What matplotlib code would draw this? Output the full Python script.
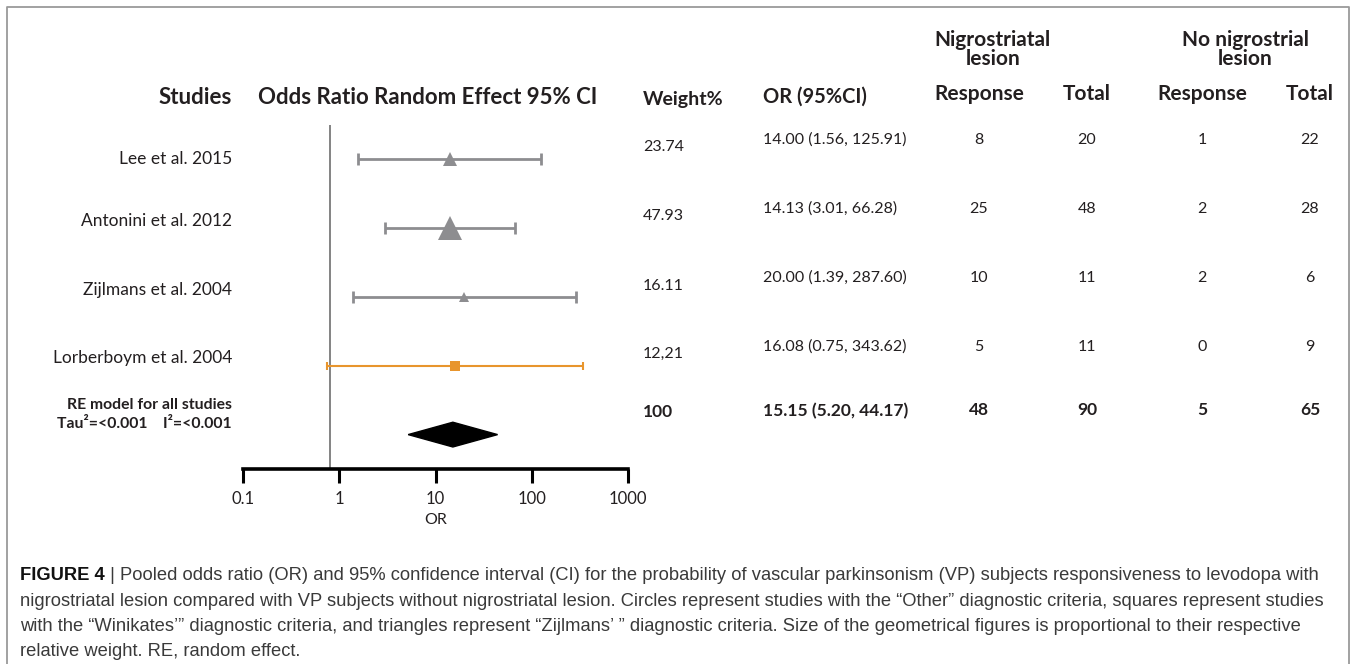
import matplotlib.pyplot as plt
from matplotlib.patches import Polygon

# ---- data ----
studies = ["Lee et al. 2015", "Antonini et al. 2012", "Zijlmans et al. 2004", "Lorberboym et al. 2004"]
odds_ratio = [14.00, 14.13, 20.00, 16.08]
ci_low = [1.56, 3.01, 1.39, 0.75]
ci_high = [125.91, 66.28, 287.60, 343.62]
weights = ["23.74", "47.93", "16.11", "12,21"]
criteria = ["Zijlmans", "Zijlmans", "Zijlmans", "Winikates"]
nigro_response = [8, 25, 10, 5]
nigro_total = [20, 48, 11, 11]
no_nigro_response = [1, 2, 2, 0]
no_nigro_total = [22, 28, 6, 9]

pooled_or = 15.15
pooled_low = 5.20
pooled_high = 44.17
pooled_weight = "100"
pooled_counts = [48, 90, 5, 65]

x_ticks = [0.1, 1, 10, 100, 1000]
x_tick_labels = ["0.1", "1", "10", "100", "1000"]
ref_line = 0.8

caption_lines = [
    " | Pooled odds ratio (OR) and 95% confidence interval (CI) for the probability of vascular parkinsonism (VP) subjects responsiveness to levodopa with",
    "nigrostriatal lesion compared with VP subjects without nigrostriatal lesion. Circles represent studies with the \u201cOther\u201d diagnostic criteria, squares represent studies",
    "with the \u201cWinikates\u2019\u201d diagnostic criteria, and triangles represent \u201cZijlmans\u2019 \u201d diagnostic criteria. Size of the geometrical figures is proportional to their respective",
    "relative weight. RE, random effect.",
]

# ---- style ----
GRAY = "#8d8d90"
ORANGE = "#e8952d"
TXT = "#231f20"
markers = {"Zijlmans": "^", "Winikates": "s", "Other": "o"}
colors = {"Zijlmans": GRAY, "Winikates": ORANGE, "Other": GRAY}
marker_sizes = [10, 17, 7.5, 7]
FONT = "Lato"

W, H = 1356, 664
fig = plt.figure(figsize=(W / 100, H / 100), dpi=100)

# text layer in pixel coordinates
tx = fig.add_axes([0, 0, 1, 1])
tx.set_xlim(0, W)
tx.set_ylim(H, 0)
tx.axis("off")

# frame
tx.plot([7, 7, 1349, 1349], [H + 5, 7, 7, H + 5], color="#9a9a9a", lw=1.3, clip_on=False)

hdr = dict(fontweight="bold", family=FONT, color=TXT, va="center")
tx.text(232, 97, "Studies", ha="right", fontsize=16, **hdr)
tx.text(428, 97, "Odds Ratio Random Effect 95% CI", ha="center", fontsize=16, **hdr)
tx.text(643, 99, "Weight%", ha="left", fontsize=14, **hdr)
tx.text(763, 97, "OR (95%CI)", ha="left", fontsize=14.5, **hdr)
tx.text(979, 94, "Response", ha="center", fontsize=15, **hdr)
tx.text(1087, 94, "Total", ha="center", fontsize=15, **hdr)
tx.text(1202, 94, "Response", ha="center", fontsize=15, **hdr)
tx.text(1310, 94, "Total", ha="center", fontsize=15, **hdr)
tx.text(993, 40, "Nigrostriatal", ha="center", fontsize=15, **hdr)
tx.text(993, 59, "lesion", ha="center", fontsize=15, **hdr)
tx.text(1245, 40, "No nigrostrial", ha="center", fontsize=15, **hdr)
tx.text(1245, 59, "lesion", ha="center", fontsize=15, **hdr)

body = dict(family=FONT, color=TXT, va="center")
name_y = [159, 221, 290, 358]
weight_y = [147, 216, 286, 354]
val_y = [140, 209, 278, 347]
for i, name in enumerate(studies):
    tx.text(232, name_y[i], name, ha="right", fontsize=12.5, **body)
    tx.text(643, weight_y[i], weights[i], ha="left", fontsize=11.5, **body)
    tx.text(763, val_y[i], f"{odds_ratio[i]:.2f} ({ci_low[i]:.2f}, {ci_high[i]:.2f})", ha="left",
            fontsize=11.5, **body)
    for x, v in zip([979, 1087, 1202, 1310],
                    [nigro_response[i], nigro_total[i], no_nigro_response[i], no_nigro_total[i]]):
        tx.text(x, val_y[i], str(v), ha="center", fontsize=11.5, **body)

bold = dict(body, fontweight="bold")
tx.text(232, 405, "RE model for all studies", ha="right", fontsize=11.3, **bold)
tx.text(232, 424, "Tau\u00b2=<0.001    I\u00b2=<0.001", ha="right", fontsize=11.3, **bold)
tx.text(643, 412, pooled_weight, ha="left", fontsize=12.5, **bold)
tx.text(763, 411, f"{pooled_or:.2f} ({pooled_low:.2f}, {pooled_high:.2f})", ha="left",
        fontsize=12.5, **bold)
for x, v in zip([979, 1087, 1202, 1310], pooled_counts):
    tx.text(x, 410, str(v), ha="center", fontsize=12.5, **bold)

# caption
CAP_FS = 13.2
cap = dict(fontsize=CAP_FS, family="Liberation Sans", va="center", color="#3a3a3a")
fig_lbl = tx.text(20, 575, "FIGURE 4", ha="left", fontweight="bold", **dict(cap, color="#111111"))
tx.annotate(caption_lines[0], xy=(1, 0.5), xycoords=fig_lbl, ha="left", va="center",
            fontsize=CAP_FS, family="Liberation Sans", color="#3a3a3a")
for k, line in enumerate(caption_lines[1:]):
    tx.text(20, 601 + 25.3 * k, line, ha="left", **cap)

# forest plot axes: x 0.1..1000 -> px 243..628, rows -0.5..4.5 -> px 125..469
x0, x1, ytop, ybot = 243, 628, 125, 469
ax = fig.add_axes([x0 / W, 1 - ybot / H, (x1 - x0) / W, (ybot - ytop) / H])
ax.set_facecolor("none")
ax.set_xscale("log")
ax.set_xlim(x_ticks[0], x_ticks[-1])
ax.set_ylim(4.5, -0.5)
for s in ["top", "right", "left"]:
    ax.spines[s].set_visible(False)
ax.spines["bottom"].set_linewidth(2.6)
ax.set_yticks([])
ax.set_xticks(x_ticks)
ax.set_xticklabels(x_tick_labels, family=FONT, fontsize=12, color=TXT)
ax.minorticks_off()
ax.tick_params(axis="x", direction="out", length=10, width=2.2, pad=6)
ax.set_xlabel("OR", family=FONT, fontsize=11.5, color=TXT, labelpad=4)

ax.axvline(ref_line, color="#7a7a7a", lw=1.3, zorder=1)

for i in range(len(studies)):
    c = colors[criteria[i]]
    thin = criteria[i] == "Winikates"
    lw = 1.5 if thin else 2
    ax.errorbar(odds_ratio[i], i, xerr=[[odds_ratio[i] - ci_low[i]], [ci_high[i] - odds_ratio[i]]],
                fmt="none", ecolor=c, elinewidth=lw, capsize=3 if thin else 4,
                capthick=lw, zorder=2)
    ax.plot(odds_ratio[i], i, marker=markers[criteria[i]], color=c, ms=marker_sizes[i],
            mew=0, ls="none", zorder=3)

half_h = 0.18
diamond = Polygon([(pooled_low, 4), (pooled_or, 4 - half_h), (pooled_high, 4), (pooled_or, 4 + half_h)],
                  closed=True, facecolor="black", edgecolor="black", zorder=3)
ax.add_patch(diamond)

fig.savefig("out.png", dpi=100)
